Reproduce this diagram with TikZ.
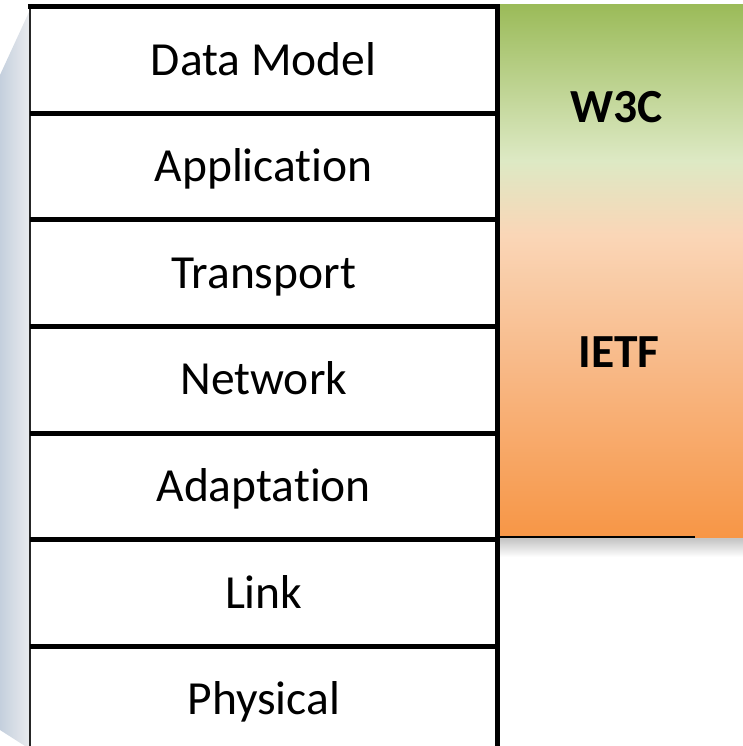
\documentclass[tikz,border=0pt]{standalone}
\usepackage{fontspec}
\setmainfont{Carlito}[Ligatures=NoCommon]
\usepackage{tikz}
\usetikzlibrary{positioning}
\definecolor{w3cgreen}{RGB}{155,187,89}
\definecolor{w3cpale}{RGB}{221,233,196}
\definecolor{ietfpeach}{RGB}{250,214,183}
\definecolor{ietfmid}{RGB}{248,186,137}
\definecolor{ietforange}{RGB}{247,150,70}
\definecolor{myshadowL}{RGB}{196,207,221}
\definecolor{myshadowR}{RGB}{233,235,238}
\pgfdeclareverticalshading{sdoshade}{100bp}{color(0bp)=(ietforange); color(25bp)=(ietforange); color(41.6bp)=(ietfmid); color(53.4bp)=(ietfpeach); color(60.4bp)=(w3cpale); color(75bp)=(w3cgreen); color(100bp)=(w3cgreen)}

\begin{document}
\begin{tikzpicture}[x=1pt,y=-1pt,
	layer/.style={minimum width=467.5pt,minimum height=106.17pt,inner sep=0pt,text height=30.3pt,text depth=0pt,font=\fontsize{47.5}{57}\selectfont},
	sdo/.style={inner sep=0pt,text height=30.3pt,text depth=0pt,font=\fontsize{47.5}{57}\selectfont\bfseries},
	thickline/.style={line width=5pt,black},
	thinline/.style={line width=1.5pt,black!85}]
		\useasboundingbox (0,0) rectangle (743,746);
		
		% left side shadow
		\shade[left color=myshadowL,right color=myshadowR] (29,12) -- (0,75) -- (0,730) -- (25,746) -- (29,746) -- cycle;
		
		% standards body box
		\fill[gray!45] (497.5,537) rectangle (743,540);
		\shade[top color=gray!45,bottom color=white] (497.5,539) rectangle (743,557);
		\node[shading=sdoshade,minimum width=245.5pt,minimum height=532pt,inner sep=0pt] (body) at (620.25,271) {};
		\draw[line width=2.5pt] (body.south west) -- ++(197.5,0) coordinate (bodyend);
		\node[sdo] (w3c) at (617,107) {W3C};
		\node[sdo] (ietf) at (619,352) {IETF};
		
		% protocol layers
		\node[layer] (dmodel) at (263.75,60.1) {Data Model};
		\node[layer,below=0pt of dmodel] (appl) {Application};
		\node[layer,below=0pt of appl] (transp) {Transport};
		\node[layer,below=0pt of transp] (netw) {Network};
		\node[layer,below=0pt of netw] (adapt) {Adaptation};
		\node[layer,below=0pt of adapt] (link) {Link};
		\node[layer,below=0pt of link] (phys) {Physical};
		
		% layer borders
		\draw[thinline] (dmodel.north west) -- (phys.south west);
		\draw[thickline] ([xshift=-2pt]dmodel.north west) -- ([xshift=2.5pt]dmodel.north east);
		\draw[thickline] (dmodel.north east) -- (phys.south east);
		\draw[thickline] (dmodel.south west) -- (dmodel.south east)
			(appl.south west) -- (appl.south east)
			(transp.south west) -- (transp.south east)
			(netw.south west) -- (netw.south east)
			(adapt.south west) -- (adapt.south east)
			(link.south west) -- (link.south east);
	\end{tikzpicture}
\end{document}
